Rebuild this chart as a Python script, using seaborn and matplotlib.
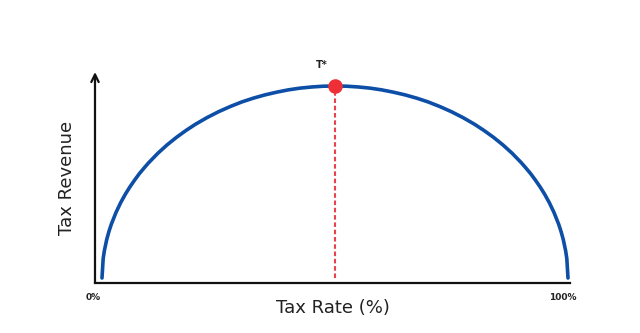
import matplotlib
matplotlib.use("Agg")
import matplotlib.pyplot as plt
import matplotlib.transforms as mtransforms
import seaborn as sns
import pandas as pd

# Tax rate (%) and tax revenue (% of peak)
tax_rate = [0, 0.25, 0.5, 1, 1.5, 2, 3, 4, 5, 6, 7, 8, 9, 10, 12, 14, 16, 18, 20,
            22.5, 25, 27.5, 30, 32.5, 35, 37.5, 40, 42.5, 45, 47.5, 50,
            52.5, 55, 57.5, 60, 62.5, 65, 67.5, 70, 72.5, 75, 77.5, 80,
            82, 84, 86, 88, 90, 91, 92, 93, 94, 95, 96, 97, 98, 98.5, 99, 99.5, 99.75, 100]
revenue = [0, 10, 14.1, 19.9, 24.3, 28, 34.1, 39.2, 43.6, 47.5, 51, 54.3, 57.2, 60,
           65, 69.4, 73.3, 76.8, 80, 83.5, 86.6, 89.3, 91.7, 93.7, 95.4, 96.8, 98,
           98.9, 99.5, 99.9, 100,
           99.9, 99.5, 98.9, 98, 96.8, 95.4, 93.7, 91.7, 89.3, 86.6, 83.5, 80,
           76.8, 73.3, 69.4, 65, 60, 57.2, 54.3, 51, 47.5, 43.6, 39.2, 34.1, 28,
           24.3, 19.9, 14.1, 10, 0]
peak_rate = 50
peak_revenue = 100
peak_label = "T*"
x_ticks = [0, 100]
x_tick_labels = ["0%", "100%"]

df = pd.DataFrame({"rate": tax_rate, "revenue": revenue})

sns.set_theme(style="white")
plt.rcParams["font.family"] = ["DejaVu Sans"]

fig = plt.figure(figsize=(6.4, 3.33), dpi=100)
fig.patch.set_facecolor("white")
ax = fig.add_axes([95 / 640, 50 / 333, 475 / 640, 211 / 333])
ax.set_facecolor("white")

sns.lineplot(data=df, x="rate", y="revenue", ax=ax, color="#0d4ea6",
             linewidth=2.6, sort=False, estimator=None)

ax.plot([peak_rate, peak_rate], [0, peak_revenue], color="#e8424a",
        linestyle=(0, (2.2, 1.3)), linewidth=1.5, zorder=3)
ax.plot([peak_rate], [peak_revenue], marker="o", markersize=10.5,
        color="#ee2f36", markeredgewidth=0, zorder=4)
ax.text(peak_rate - 2.8, peak_revenue + 11, peak_label, fontsize=7,
        fontweight="bold", ha="center", va="center", color="#222222")

ax.set_xlim(-1.5, 100.43)
ax.set_ylim(-2.6, 107.3)

for s in ["top", "right", "left"]:
    ax.spines[s].set_visible(False)
ax.spines["bottom"].set_color("#111111")
ax.spines["bottom"].set_linewidth(1.6)

ax.annotate("", xy=(-1.5, 107.3), xytext=(-1.5, -2.6),
            xycoords="data", textcoords="data",
            arrowprops=dict(arrowstyle="->,head_length=0.45,head_width=0.22",
                            color="#111111", linewidth=1.6,
                            shrinkA=0, shrinkB=0),
            annotation_clip=False)

ax.set_xticks(x_ticks)
ax.set_xticklabels(x_tick_labels, fontsize=6.5, fontweight="bold", color="#222222")
ax.tick_params(axis="x", length=0, pad=7)
ax.set_yticks([])
for lbl, dx in zip(ax.get_xticklabels(), [-9, -5]):
    lbl.set_transform(lbl.get_transform() + mtransforms.ScaledTranslation(dx / 100, 0, fig.dpi_scale_trans))

ax.set_xlabel("Tax Rate (%)", fontsize=13, color="#222222", labelpad=-2)
ax.set_ylabel("Tax Revenue", fontsize=13, color="#222222", labelpad=14)

fig.savefig("out.png", dpi=100, facecolor="white")
